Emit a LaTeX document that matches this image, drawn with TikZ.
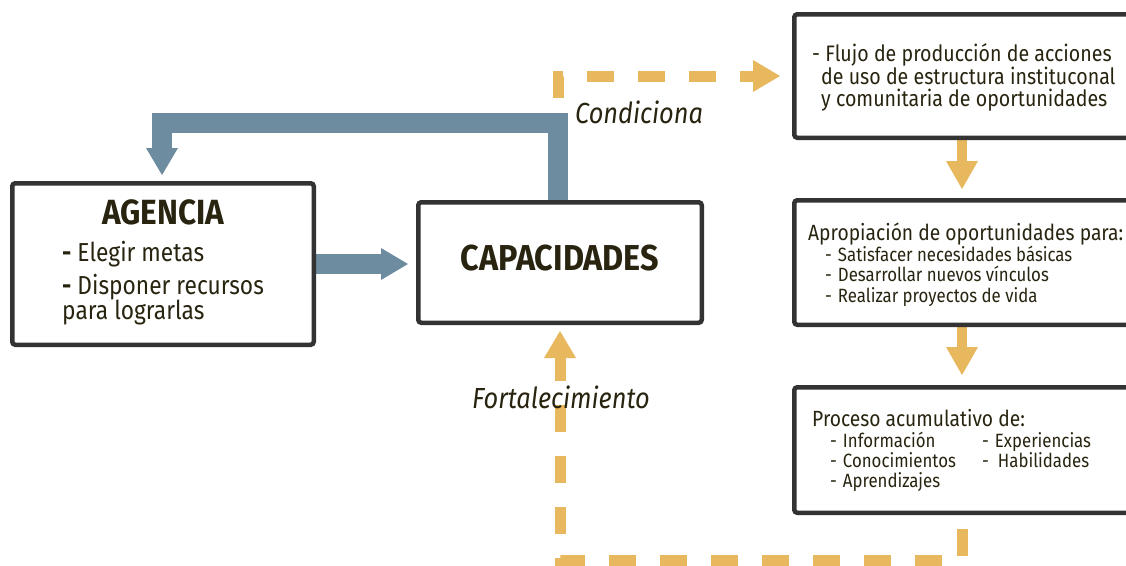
\documentclass[tikz,border=0pt]{standalone}
\usepackage{fontspec}
\setmainfont{Fira Sans}[FakeStretch=0.875]
\newfontfamily\titlefont{Fira Sans}[FakeStretch=0.9]
\usetikzlibrary{arrows.meta,backgrounds}
\definecolor{txt}{RGB}{40,36,16}
\definecolor{bl}{RGB}{110,140,159}
\definecolor{og}{RGB}{232,184,94}
\definecolor{bd}{RGB}{51,51,51}
\newcommand{\fs}[2]{\fontsize{#1}{#2}\selectfont}
\begin{document}
\begin{tikzpicture}[x=1pt,y=-1pt,
  box/.style={draw=bd, line width=4.5pt, rounded corners=3pt, fill=white, inner sep=0pt},
  blarrow/.style={draw=bl, line width=20pt, line join=miter, -{Triangle[width=32pt,length=27pt,line width=0pt]}},
  ogdash/.style={draw=og, line width=11pt, dash pattern=on 27pt off 24pt, line join=miter, -{Triangle[width=32pt,length=27pt,line width=0pt]}},
  ogarrow/.style={draw=og, line width=10pt, -{Triangle[width=32pt,length=28pt,line width=0pt]}},
  lbl/.style={text=txt, inner sep=0pt}]
\useasboundingbox (0,0) rectangle (1126,565);
\clip (0,0) rectangle (1126,565);

% boxes
\node[box, minimum width=301.5pt, minimum height=161.5pt] (agencia) at (163,264) {};
\node[box, minimum width=283.5pt, minimum height=120.5pt] (capac) at (560,262.5) {};
\node[box, minimum width=335.5pt, minimum height=123.5pt] (box1) at (962,76) {};
\node[box, minimum width=335.5pt, minimum height=124.5pt] (box2) at (962,262.5) {};
\node[box, minimum width=335.5pt, minimum height=125.5pt] (box3) at (962,450) {};

% connectors
\begin{pgfonlayer}{background}
\fill[white] (0,0) rectangle (1126,565);
\draw[ogdash, shorten >=12pt] ([xshift=-2pt]capac.north) |- (box1.west);
\draw[ogdash, shorten <=14pt, shorten >=6pt] (box3.south) |- (capac.south |- 0,560) -- (capac.south);
\draw[blarrow, shorten >=6pt] ([xshift=-2pt]capac.north) |- (162,123) -- (162,123 |- agencia.north);
\draw[blarrow, shorten >=8pt] (agencia.east) -- (agencia.east -| capac.west);
\draw[ogarrow, shorten >=9pt] (box1.south) -- (box2.north);
\draw[ogarrow, shorten >=10pt] (box2.south) -- (box3.north);
\end{pgfonlayer}

% texts
\node[lbl, font=\titlefont\bfseries\fs{35}{40}, anchor=base] (tag) at (163,224) {AGENCIA};
\node[lbl, font=\fs{26}{28}, anchor=base west] (a1) at (62,261) {\textbf{-} Elegir metas};
\node[lbl, font=\fs{26}{28}, anchor=base west] (a2) at (62,294) {\textbf{-} Disponer recursos};
\node[lbl, font=\fs{26}{28}, anchor=base west] (a3) at (62,319) {para lograrlas};
\node[lbl, font=\titlefont\bfseries\fs{36}{40}, anchor=base] (tcap) at (560,270) {CAPACIDADES};

\node[lbl, font=\fs{22.4}{21.5}, anchor=base west, align=left] (b1) at (812,106) {- Flujo de producción de acciones\\\hspace*{9pt}de uso de estructura instituconal\\\hspace*{9pt}y comunitaria de oportunidades};

\node[lbl, font=\fs{22}{22}, anchor=base west] (b2h) at (808,240) {Apropiación de oportunidades para:};
\node[lbl, font=\fs{19.2}{20.5}, anchor=base west, align=left] (b2i) at (825,302) {-\hspace{6pt}Satisfacer necesidades básicas\\-\hspace{6pt}Desarrollar nuevos vínculos\\-\hspace{6pt}Realizar proyectos de vida};

\node[lbl, font=\fs{22}{22}, anchor=base west] (b3h) at (812,426) {Proceso acumulativo de:};
\node[lbl, font=\fs{19.2}{20}, anchor=base west, align=left] (b3i) at (830,487) {-\hspace{6pt}Información\\-\hspace{6pt}Conocimientos\\-\hspace{6pt}Aprendizajes};
\node[lbl, font=\fs{19.2}{20}, anchor=base west, align=left] (b3j) at (982,467) {-\hspace{6pt}Experiencias\\-\hspace{9pt}Habilidades};

\node[lbl, font=\itshape\fs{29}{30}, anchor=base west] (cond) at (575,123) {Condiciona};
\node[lbl, font=\itshape\fs{29}{30}, anchor=base west] (fort) at (472,408) {Fortalecimiento};
\end{tikzpicture}
\end{document}
